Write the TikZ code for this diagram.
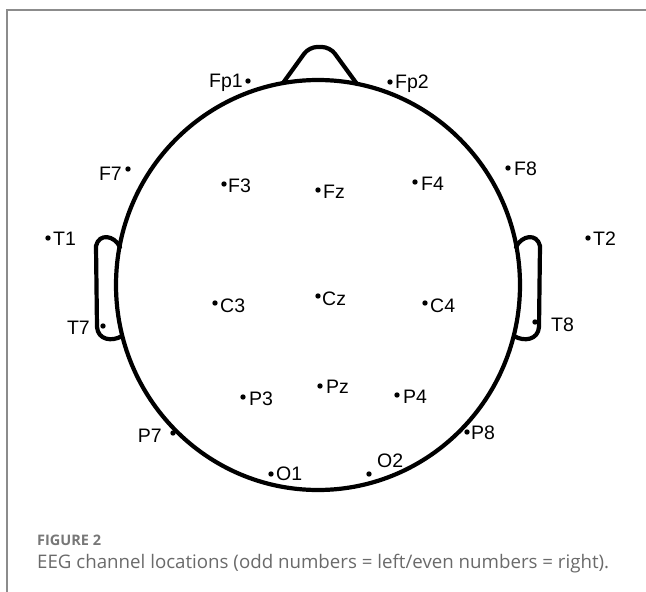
\documentclass[tikz,border=0pt]{standalone}
\usepackage{fontspec}
\setmainfont{Liberation Sans}
\newfontfamily\capfont{Open Sans}
\definecolor{framegray}{HTML}{8C8C8C}
\definecolor{capgray}{HTML}{6A6A6A}
\definecolor{figgray}{HTML}{777777}
\begin{document}
\begin{tikzpicture}[x=1pt,y=-1pt,
  dot/.style={circle,fill=black,inner sep=0pt,minimum size=5.4pt},
  lab/.style={inner sep=0pt,font=\fontsize{19.5}{21}\selectfont},
  headline/.style={line width=4.2pt,line join=round,line cap=round},
  frameline/.style={draw=framegray,line width=1.3pt}]
\useasboundingbox (0,0) rectangle (646,592);
% frame
\coordinate (fTL) at (7,10);
\coordinate (fTR) at (646,10);
\coordinate (fBL) at (7,592);
\draw[frameline] (fTR) -- (fTL) -- (fBL);
% head
\coordinate (hc) at (318,285);
\draw[headline] (hc) ellipse [x radius=202, y radius=205];
% nose
\coordinate (n1) at (283,83);
\coordinate (n2) at (357,84);
\draw[headline,rounded corners=8pt] (n1) -- (309,47) -- (330,47) -- (n2);
% ears
\coordinate (le1) at (120,247);
\coordinate (le2) at (122,336);
\draw[headline] (le1) .. controls (114,235) and (99,233) .. (96,246)
  -- (97,327) .. controls (98,340) and (112,342) .. (le2);
\coordinate (re1) at (516,247);
\coordinate (re2) at (514,336);
\draw[headline] (re1) .. controls (522,235) and (537,233) .. (540,246)
  -- (539,327) .. controls (538,340) and (524,342) .. (re2);
% electrodes
\node[dot] (Fp1) at (248,81) {};
\node[dot] (Fp2) at (390,82) {};
\node[dot] (F7) at (128,169) {};
\node[dot] (F8) at (508,168) {};
\node[dot] (T1) at (48,238) {};
\node[dot] (T2) at (588,238) {};
\node[dot] (F3) at (224,184) {};
\node[dot] (Fz) at (318,190) {};
\node[dot] (F4) at (415,182) {};
\node[dot] (C3) at (215,303) {};
\node[dot] (Cz) at (318,296) {};
\node[dot] (C4) at (425,303) {};
\node[dot] (T7) at (103,326) {};
\node[dot] (T8) at (535,322) {};
\node[dot] (P3) at (243,397) {};
\node[dot] (Pz) at (320,386) {};
\node[dot] (P4) at (397,395) {};
\node[dot] (P7) at (173,433) {};
\node[dot] (P8) at (467,432) {};
\node[dot] (O1) at (271,474) {};
\node[dot] (O2) at (369,474) {};
% labels
\node[lab,anchor=base east] (lFp1) at (243,87) {Fp1};
\node[lab,anchor=base west] (lFp2) at (395,88) {Fp2};
\node[lab,anchor=base east] (lF7) at (122,180) {F7};
\node[lab,anchor=base west] (lF8) at (514,175) {F8};
\node[lab,anchor=base west] (lT1) at (53,245) {T1};
\node[lab,anchor=base west] (lT2) at (593,245) {T2};
\node[lab,anchor=base west] (lF3) at (228,192) {F3};
\node[lab,anchor=base west] (lFz) at (323,198) {Fz};
\node[lab,anchor=base west] (lF4) at (421,190) {F4};
\node[lab,anchor=base west] (lC3) at (220,312) {C3};
\node[lab,anchor=base west] (lCz) at (322,305) {Cz};
\node[lab,anchor=base west] (lC4) at (430,312) {C4};
\node[lab,anchor=base east] (lT7) at (90,334) {T7};
\node[lab,anchor=base west] (lT8) at (551,331) {T8};
\node[lab,anchor=base west] (lP3) at (249,405) {P3};
\node[lab,anchor=base west] (lPz) at (326,393) {Pz};
\node[lab,anchor=base west] (lP4) at (403,403) {P4};
\node[lab,anchor=base east] (lP7) at (162,442) {P7};
\node[lab,anchor=base west] (lP8) at (471,439) {P8};
\node[lab,anchor=base west] (lO1) at (276,480) {O1};
\node[lab,anchor=base west] (lO2) at (377,467) {O2};
% caption
\node[anchor=base west,inner sep=0pt,text=figgray,font=\capfont\fontsize{14.5}{16}\selectfont\bfseries] (fig) at (37,545) {FIGURE 2};
\node[anchor=base west,inner sep=0pt,text=capgray,font=\capfont\fontsize{18.7}{21}\selectfont] (cap) at (37,568) {EEG channel locations (odd numbers = left/even numbers = right).};
\end{tikzpicture}
\end{document}
